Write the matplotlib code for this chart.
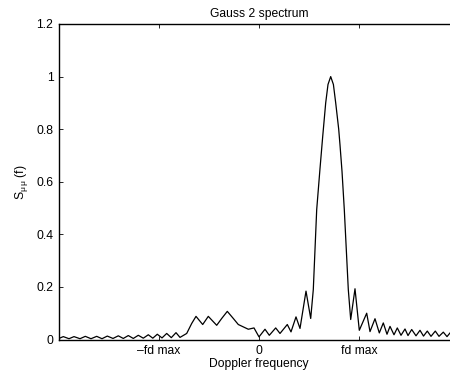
import matplotlib
matplotlib.use("Agg")
import matplotlib.pyplot as plt

plt.rcParams['font.family'] = ['Liberation Sans', 'DejaVu Sans']
plt.rcParams['mathtext.fontset'] = 'custom'
plt.rcParams['mathtext.rm'] = 'Liberation Sans'
plt.rcParams['mathtext.it'] = 'Liberation Sans:italic'

# Doppler frequency in units of fd max, spectrum values
freq = [
    -2.00, -1.957, -1.90, -1.85, -1.79, -1.737, -1.68, -1.623, -1.57, -1.517,
    -1.46, -1.407, -1.357, -1.307, -1.257, -1.207, -1.157, -1.107, -1.062, -1.017,
    -0.97, -0.923, -0.877, -0.83, -0.79, -0.723, -0.673, -0.63, -0.563, -0.507,
    -0.423, -0.373, -0.317, -0.257, -0.207, -0.157, -0.107, -0.05, 0.00, 0.06,
    0.103, 0.167, 0.21, 0.283, 0.32, 0.37, 0.41, 0.47, 0.517, 0.543,
    0.577, 0.61, 0.637, 0.667, 0.69, 0.717, 0.744, 0.767, 0.797, 0.81,
    0.83, 0.853, 0.893, 0.917, 0.96, 1.003, 1.077, 1.11, 1.16, 1.203,
    1.243, 1.28, 1.31, 1.35, 1.383, 1.42, 1.46, 1.49, 1.527, 1.57,
    1.61, 1.645, 1.683, 1.72, 1.763, 1.80, 1.843, 1.88, 1.915, 1.95, 1.99,
]
spectrum = [
    0.004, 0.011, 0.003, 0.011, 0.003, 0.012, 0.003, 0.012, 0.003, 0.013,
    0.004, 0.014, 0.004, 0.015, 0.004, 0.016, 0.005, 0.018, 0.005, 0.020,
    0.006, 0.023, 0.007, 0.026, 0.008, 0.023, 0.061, 0.088, 0.057, 0.088,
    0.054, 0.080, 0.107, 0.080, 0.057, 0.048, 0.039, 0.044, 0.010, 0.039,
    0.016, 0.044, 0.023, 0.057, 0.029, 0.086, 0.042, 0.184, 0.080, 0.190,
    0.494, 0.650, 0.772, 0.900, 0.970, 1.000, 0.970, 0.900, 0.800, 0.740,
    0.640, 0.494, 0.190, 0.076, 0.193, 0.035, 0.100, 0.030, 0.079, 0.025,
    0.063, 0.020, 0.050, 0.018, 0.044, 0.016, 0.040, 0.015, 0.038, 0.014,
    0.035, 0.013, 0.032, 0.012, 0.032, 0.012, 0.028, 0.011, 0.027, 0.011, 0.026,
]
tick_pos = [-1, 0, 1]
tick_labels = ['\u2013fd max', '0', 'fd max']
ytick_pos = [0, 0.2, 0.4, 0.6, 0.8, 1.0, 1.2]
ytick_labels = ['0', '0.2', '0.4', '0.6', '0.8', '1', '1.2']

fs = 8.7
fig = plt.figure(figsize=(4.5, 3.79), dpi=100)
ax = fig.add_axes([59/450, 39.5/379, 400/450, 315.5/379])
ax.plot(freq, spectrum, color='black', lw=0.9, solid_joinstyle='round')
ax.set_xlim(-2, 2)
ax.set_ylim(0, 1.2)
ax.set_xticks(tick_pos)
ax.set_xticklabels(tick_labels)
ax.set_yticks(ytick_pos)
ax.set_yticklabels(ytick_labels)
ax.tick_params(direction='in', top=True, right=True, length=3, width=0.6,
               labelsize=fs, pad=4, colors='black')
for s in ax.spines.values():
    s.set_linewidth(1.0)
ax.set_title('Gauss 2 spectrum', fontsize=fs, pad=5)
ax.set_xlabel('Doppler frequency', fontsize=fs, labelpad=1)
ax.set_ylabel(r'S$_{\mathrm{μ\,μ}}$ (f)', fontsize=fs, labelpad=5)
fig.savefig('out.png', dpi=100)
